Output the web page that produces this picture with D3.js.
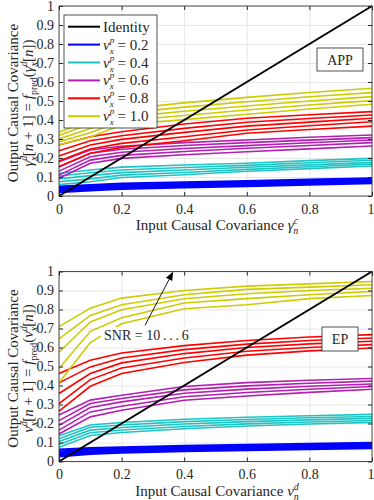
<!DOCTYPE html>
<html>
<head>
<meta charset="utf-8">
<script src="https://cdn.jsdelivr.net/npm/d3@7"></script>
<style>
body{margin:0;background:#fff}
text{font-family:"Liberation Serif","DejaVu Serif",serif;fill:#262626}
</style>
</head>
<body>
<div id="chart"></div>
<script>
// input covariance sample points
const xIn = [0, 0.1, 0.2, 0.4, 0.6, 0.8, 1];
const xTicks = [0, 0.2, 0.4, 0.6, 0.8, 1];
const yTicks = [0, 0.1, 0.2, 0.3, 0.4, 0.5, 0.6, 0.7, 0.8, 0.9, 1];
const familyLabels = ["0.2", "0.4", "0.6", "0.8", "1.0"];
const familyColors = ["#0000ff", "#1ec4c4", "#b31eb3", "#ff0000", "#cccc00"];

// APP panel, one row per SNR (10 ... 6)
const appV02 = [[0.05,0.058,0.065,0.072,0.078,0.086,0.093],[0.043,0.051,0.058,0.065,0.071,0.079,0.086],[0.035,0.044,0.051,0.058,0.064,0.072,0.079],[0.028,0.037,0.044,0.051,0.058,0.066,0.073],[0.02,0.03,0.038,0.045,0.052,0.06,0.067]];
const appV04 = [[0.12,0.137,0.152,0.163,0.172,0.186,0.198],[0.105,0.122,0.137,0.15,0.161,0.175,0.188],[0.09,0.107,0.123,0.137,0.151,0.164,0.177],[0.075,0.09,0.11,0.124,0.14,0.154,0.168],[0.06,0.075,0.097,0.112,0.13,0.144,0.158]];
const appV06 = [[0.18,0.242,0.262,0.281,0.295,0.309,0.321],[0.154,0.225,0.246,0.266,0.281,0.294,0.307],[0.131,0.207,0.23,0.25,0.265,0.28,0.295],[0.11,0.189,0.214,0.234,0.251,0.266,0.281],[0.093,0.172,0.198,0.217,0.233,0.248,0.263]];
const appV08 = [[0.268,0.312,0.338,0.379,0.409,0.428,0.444],[0.238,0.291,0.317,0.356,0.388,0.408,0.426],[0.21,0.268,0.298,0.335,0.368,0.389,0.409],[0.184,0.247,0.277,0.312,0.347,0.37,0.391],[0.154,0.225,0.256,0.291,0.33,0.35,0.368]];
const appV10 = [[0.335,0.4,0.456,0.49,0.519,0.545,0.567],[0.318,0.38,0.435,0.468,0.496,0.522,0.544],[0.3,0.355,0.414,0.446,0.474,0.5,0.523],[0.285,0.333,0.396,0.424,0.453,0.479,0.502],[0.27,0.31,0.374,0.402,0.43,0.458,0.483]];

// EP panel
const epV02 = [[0.062,0.07,0.075,0.082,0.088,0.093,0.098],[0.052,0.062,0.067,0.074,0.08,0.085,0.09],[0.043,0.054,0.06,0.067,0.073,0.078,0.083],[0.035,0.047,0.053,0.06,0.066,0.071,0.076],[0.027,0.04,0.046,0.054,0.06,0.065,0.07]];
const epV04 = [[0.135,0.192,0.205,0.222,0.233,0.241,0.248],[0.12,0.18,0.192,0.21,0.221,0.23,0.237],[0.105,0.165,0.179,0.197,0.21,0.219,0.227],[0.09,0.151,0.166,0.184,0.198,0.208,0.216],[0.075,0.137,0.153,0.172,0.187,0.197,0.206]];
const epV06 = [[0.245,0.323,0.349,0.395,0.415,0.428,0.437],[0.215,0.305,0.332,0.377,0.398,0.412,0.423],[0.19,0.284,0.314,0.359,0.381,0.396,0.408],[0.165,0.261,0.291,0.341,0.363,0.38,0.395],[0.145,0.235,0.27,0.322,0.345,0.364,0.38]];
const epV08 = [[0.463,0.533,0.571,0.61,0.637,0.655,0.668],[0.414,0.498,0.545,0.589,0.618,0.637,0.65],[0.358,0.463,0.519,0.568,0.6,0.619,0.633],[0.305,0.431,0.492,0.545,0.58,0.6,0.615],[0.265,0.396,0.463,0.521,0.56,0.582,0.597]];
const epV10 = [[0.71,0.807,0.86,0.9,0.923,0.935,0.947],[0.645,0.769,0.825,0.878,0.906,0.918,0.93],[0.575,0.734,0.799,0.857,0.883,0.9,0.912],[0.49,0.685,0.757,0.834,0.857,0.878,0.895],[0.415,0.626,0.725,0.804,0.825,0.857,0.874]];

const W = 374, H = 500;
const svg = d3.select("#chart").append("svg").attr("width", W).attr("height", H);

// little helper for sub/superscripts inside a text element
function math(sel, tokens, small, supUp) {
  small = small || 10;
  supUp = supUp || 6;
  let off = 0;
  tokens.forEach(tk => {
    if (tk.sup !== undefined || tk.sub !== undefined) {
      let w = 0;
      if (tk.sup) {
        sel.append("tspan").attr("font-size", small).attr("font-style", "italic")
          .attr("dy", -supUp - off).text(tk.sup);
        off = -supUp; w = tk.sup.length * small * 0.5;
      }
      if (tk.sub) {
        const s = sel.append("tspan").attr("font-size", small)
          .attr("font-style", tk.upright ? "normal" : "italic")
          .attr("dy", 4 - off).text(tk.sub);
        if (w) s.attr("dx", -w);
        off = 4;
      }
    } else {
      const s = sel.append("tspan").attr("dy", -off).text(tk.t);
      if (tk.i) s.attr("font-style", "italic");
      off = 0;
    }
  });
}

function panel(top, families, opt) {
  const h = 190;
  const x = d3.scaleLinear().domain([0, 1]).range([59, 372]);
  const y = d3.scaleLinear().domain([0, 1]).range([top + h, top]);
  const g = svg.append("g");

  // grid
  g.append("g").attr("transform", `translate(0,${top + h})`)
    .call(d3.axisBottom(x).tickValues(xTicks).tickSize(-h).tickFormat(""))
    .call(a => a.select(".domain").remove())
    .selectAll("line").attr("stroke", "#e6e6e6");
  g.append("g").attr("transform", "translate(59,0)")
    .call(d3.axisLeft(y).tickValues(yTicks).tickSize(-313).tickFormat(""))
    .call(a => a.select(".domain").remove())
    .selectAll("line").attr("stroke", "#e6e6e6");

  // curves
  const line = d3.line().x((d, i) => x(xIn[i])).y(d => y(d));
  families.forEach((fam, k) => {
    g.append("g").selectAll("path").data(fam).join("path")
      .attr("d", line).attr("fill", "none")
      .attr("stroke", familyColors[k])
      .attr("stroke-width", k === 0 ? 2.2 : 1.6);
  });

  // identity
  g.append("path").attr("d", d3.line()([[x(0), y(0)], [x(1), y(1)]]))
    .attr("stroke", "#000").attr("stroke-width", 2).attr("fill", "none");

  // axes
  const fmt = d3.format("~g");
  g.append("g").attr("transform", "translate(59,0)")
    .call(d3.axisLeft(y).tickValues(yTicks).tickSize(-4).tickPadding(5).tickFormat(fmt))
    .call(a => a.select(".domain").remove())
    .call(a => a.selectAll("text").attr("font-size", 14).attr("font-family", null))
    .selectAll("line").attr("stroke", "#262626");
  g.append("g").attr("transform", "translate(372,0)")
    .call(d3.axisRight(y).tickValues(yTicks).tickSize(-4).tickFormat(""))
    .call(a => a.select(".domain").remove())
    .selectAll("line").attr("stroke", "#262626");
  g.append("g").attr("transform", `translate(0,${top + h})`)
    .call(d3.axisBottom(x).tickValues(xTicks).tickSize(-4).tickPadding(8).tickFormat(fmt))
    .call(a => a.select(".domain").remove())
    .call(a => a.selectAll("text").attr("font-size", 14).attr("font-family", null)
      .attr("dx", d => d === 1 ? -1.5 : 0))
    .selectAll("line").attr("stroke", "#262626");
  g.append("g").attr("transform", `translate(0,${top})`)
    .call(d3.axisTop(x).tickValues(xTicks).tickSize(-4).tickFormat(""))
    .call(a => a.select(".domain").remove())
    .selectAll("line").attr("stroke", "#262626");
  g.append("rect").attr("x", 59).attr("y", top).attr("width", 313).attr("height", h)
    .attr("fill", "none").attr("stroke", "#262626").attr("stroke-width", 0.8);

  // axis titles
  const xt = g.append("text").attr("x", 217).attr("y", top + h + 34)
    .attr("text-anchor", "middle").attr("font-size", 15);
  math(xt, opt.xTitle);
  const yMid = top + h / 2 + 2;
  g.append("text").attr("transform", `translate(18,${yMid}) rotate(-90)`)
    .attr("text-anchor", "middle").attr("font-size", 15).text("Output Causal Covariance");
  const yt = g.append("text").attr("transform", `translate(33,${yMid}) rotate(-90)`)
    .attr("text-anchor", "middle").attr("font-size", 15);
  math(yt, opt.yTitle);

  // tag box
  const tb = opt.tagBox;
  g.append("rect").attr("x", tb[0]).attr("y", tb[1]).attr("width", tb[2]).attr("height", tb[3])
    .attr("fill", "#fff").attr("stroke", "#262626").attr("stroke-width", 0.8);
  g.append("text").attr("x", tb[0] + tb[2] / 2).attr("y", tb[1] + tb[3] / 2 + 5)
    .attr("text-anchor", "middle").attr("font-size", 14).text(opt.tag);

  return { g, x, y };
}

const appPanel = panel(6, [appV02, appV04, appV06, appV08, appV10], {
  tag: "APP", tagBox: [317, 48, 46, 23],
  xTitle: [{ t: "Input Causal Covariance " }, { t: "\u03b3", i: true }, { sup: "c", sub: "n" }],
  yTitle: [{ t: "\u03b3", i: true }, { sup: "d", sub: "x" }, { t: "[" }, { t: "n", i: true }, { t: " + 1] = " },
           { t: "f", i: true }, { sub: "pred", upright: true }, { t: "(" }, { t: "\u03b3", i: true },
           { sup: "d", sub: "x" }, { t: "[" }, { t: "n", i: true }, { t: "])" }]
});

const epPanel = panel(271.5, [epV02, epV04, epV06, epV08, epV10], {
  tag: "EP", tagBox: [322, 327, 36, 24],
  xTitle: [{ t: "Input Causal Covariance " }, { t: "v", i: true }, { sup: "d", sub: "n" }],
  yTitle: [{ t: "v", i: true }, { sup: "d", sub: "x" }, { t: "[" }, { t: "n", i: true }, { t: " + 1] = " },
           { t: "f", i: true }, { sub: "pred", upright: true }, { t: "(" }, { t: "v", i: true },
           { sup: "d", sub: "x" }, { t: "[" }, { t: "n", i: true }, { t: "])" }]
});

// legend in the APP panel
const leg = appPanel.g.append("g");
leg.append("rect").attr("x", 64).attr("y", 15).attr("width", 93).attr("height", 113)
  .attr("fill", "#fff").attr("stroke", "#262626").attr("stroke-width", 0.8);
const legItems = [{ c: "#000", label: null }].concat(familyLabels.map((l, i) => ({ c: familyColors[i], label: l })));
legItems.forEach((it, i) => {
  const cy = 26.7 + i * 17.9;
  leg.append("line").attr("x1", 68).attr("x2", 100).attr("y1", cy).attr("y2", cy)
    .attr("stroke", it.c).attr("stroke-width", 2);
  const t = leg.append("text").attr("x", 103).attr("y", cy + 5).attr("font-size", 15);
  if (it.label === null) t.text("Identity");
  else math(t, [{ t: "v", i: true }, { sup: "p", sub: "x" }, { t: " = " + it.label }], 9, 7);
});

// SNR annotation in the EP panel
const ax = epPanel.x, ay = epPanel.y;
const a0 = [ax(0.275), ay(0.717)], a1 = [ax(0.365), ay(1.0)];
const ang = Math.atan2(a1[1] - a0[1], a1[0] - a0[0]);
const hl = 9, hw = 3.5;
const bx = a1[0] - hl * Math.cos(ang), by = a1[1] - hl * Math.sin(ang);
epPanel.g.append("line").attr("x1", a0[0]).attr("y1", a0[1]).attr("x2", bx).attr("y2", by)
  .attr("stroke", "#000").attr("stroke-width", 0.9);
epPanel.g.append("path")
  .attr("d", `M${a1[0]},${a1[1]}L${bx + hw * Math.sin(ang)},${by - hw * Math.cos(ang)}L${bx - hw * Math.sin(ang)},${by + hw * Math.cos(ang)}Z`)
  .attr("fill", "#000");
epPanel.g.append("rect").attr("x", 101).attr("y", 327).attr("width", 86).attr("height", 17).attr("fill", "#fff");
epPanel.g.append("text").attr("x", 104).attr("y", 340).attr("font-size", 14)
  .text("SNR = 10\u2009.\u2009.\u2009.\u20096");
</script>
</body>
</html>
